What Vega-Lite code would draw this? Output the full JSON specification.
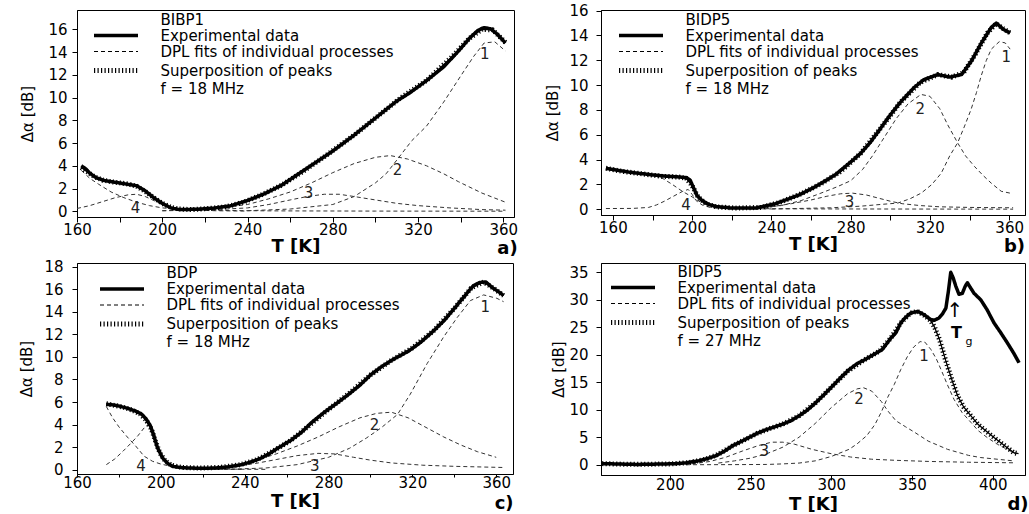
{
"$schema": "https://vega.github.io/schema/vega-lite/v6.json",
"background": "white",
"padding": {"left": 19, "top": 3, "right": 0, "bottom": 0},
"config": {
  "font": "DejaVu Sans",
  "view": {"stroke": "black", "strokeWidth": 1},
  "axis": {"grid": false, "domainColor": "black", "tickColor": "black", "labelColor": "black", "titleColor": "black", "labelFont": "DejaVu Sans", "titleFont": "DejaVu Sans", "labelFontSize": 15, "tickSize": 5, "labelOverlap": false, "labelFlush": false},
  "axisX": {"titleFontSize": 18, "titleFontWeight": "bold", "labelPadding": 0, "titlePadding": 0},
  "axisY": {"titleFontSize": 15, "titleFontWeight": "normal", "labelPadding": 5, "titlePadding": 12},
  "legend": {"direction": "vertical", "symbolType": "M-22,0H22", "symbolSize": 4, "symbolStrokeColor": "black", "symbolFillColor": "transparent", "symbolOffset": 14.5, "labelOffset": 37, "labelFont": "DejaVu Sans", "labelFontSize": 15, "labelColor": "black", "rowPadding": 0, "padding": 0, "labelLimit": 400},
  "title": {"fontSize": 18, "fontWeight": "bold", "font": "DejaVu Sans", "color": "black"},
  "text": {"font": "DejaVu Sans"}
},
"datasets": {
"a": [
{"s":"E","T":162,"v":4.0},{"s":"E","T":164,"v":3.75},{"s":"E","T":166,"v":3.35},{"s":"E","T":169,"v":2.95},{"s":"E","T":173,"v":2.7},{"s":"E","T":178,"v":2.55},{"s":"E","T":183,"v":2.4},{"s":"E","T":188,"v":2.25},{"s":"E","T":192,"v":1.8},{"s":"E","T":196,"v":1.2},{"s":"E","T":200,"v":0.7},{"s":"E","T":204,"v":0.3},{"s":"E","T":208,"v":0.15},{"s":"E","T":216,"v":0.18},{"s":"E","T":224,"v":0.28},{"s":"E","T":232,"v":0.48},{"s":"E","T":240,"v":0.95},{"s":"E","T":248,"v":1.55},{"s":"E","T":256,"v":2.3},{"s":"E","T":264,"v":3.3},{"s":"E","T":272,"v":4.3},{"s":"E","T":280,"v":5.3},{"s":"E","T":290,"v":6.7},{"s":"E","T":300,"v":8.2},{"s":"E","T":310,"v":9.7},{"s":"E","T":316,"v":10.4},{"s":"E","T":324,"v":11.5},{"s":"E","T":332,"v":12.7},{"s":"E","T":339,"v":14.1},{"s":"E","T":344,"v":15.2},{"s":"E","T":348,"v":15.9},{"s":"E","T":351,"v":16.15},{"s":"E","T":354,"v":16.05},{"s":"E","T":357,"v":15.6},{"s":"E","T":361,"v":14.8},
{"s":"S","T":162,"v":3.85},{"s":"S","T":165,"v":3.45},{"s":"S","T":168,"v":3.05},{"s":"S","T":172,"v":2.75},{"s":"S","T":176,"v":2.6},{"s":"S","T":180,"v":2.5},{"s":"S","T":184,"v":2.4},{"s":"S","T":188,"v":2.2},{"s":"S","T":192,"v":1.75},{"s":"S","T":196,"v":1.2},{"s":"S","T":200,"v":0.7},{"s":"S","T":204,"v":0.35},{"s":"S","T":208,"v":0.2},{"s":"S","T":214,"v":0.15},{"s":"S","T":222,"v":0.25},{"s":"S","T":230,"v":0.4},{"s":"S","T":238,"v":0.8},{"s":"S","T":246,"v":1.4},{"s":"S","T":256,"v":2.3},{"s":"S","T":266,"v":3.5},{"s":"S","T":276,"v":4.8},{"s":"S","T":290,"v":6.7},{"s":"S","T":300,"v":8.2},{"s":"S","T":312,"v":10.0},{"s":"S","T":324,"v":11.5},{"s":"S","T":336,"v":13.6},{"s":"S","T":344,"v":15.2},{"s":"S","T":350,"v":16.0},{"s":"S","T":355,"v":15.95},{"s":"S","T":361,"v":14.85},
{"s":"D","k":"1","T":240,"v":0.05},{"s":"D","k":"1","T":260,"v":0.2},{"s":"D","k":"1","T":280,"v":0.6},{"s":"D","k":"1","T":290,"v":1.3},{"s":"D","k":"1","T":300,"v":2.5},{"s":"D","k":"1","T":305,"v":3.3},{"s":"D","k":"1","T":310,"v":4.5},{"s":"D","k":"1","T":317,"v":6.2},{"s":"D","k":"1","T":324,"v":7.5},{"s":"D","k":"1","T":332,"v":9.6},{"s":"D","k":"1","T":340,"v":11.9},{"s":"D","k":"1","T":346,"v":13.6},{"s":"D","k":"1","T":351,"v":14.8},{"s":"D","k":"1","T":356,"v":14.9},{"s":"D","k":"1","T":361,"v":14.1},
{"s":"D","k":"2","T":200,"v":0.05},{"s":"D","k":"2","T":220,"v":0.15},{"s":"D","k":"2","T":240,"v":0.6},{"s":"D","k":"2","T":250,"v":1.1},{"s":"D","k":"2","T":260,"v":1.7},{"s":"D","k":"2","T":270,"v":2.5},{"s":"D","k":"2","T":280,"v":3.4},{"s":"D","k":"2","T":290,"v":4.2},{"s":"D","k":"2","T":300,"v":4.75},{"s":"D","k":"2","T":307,"v":4.9},{"s":"D","k":"2","T":315,"v":4.6},{"s":"D","k":"2","T":324,"v":4.0},{"s":"D","k":"2","T":332,"v":3.3},{"s":"D","k":"2","T":339,"v":2.6},{"s":"D","k":"2","T":350,"v":1.6},{"s":"D","k":"2","T":361,"v":0.8},
{"s":"D","k":"3","T":200,"v":0.05},{"s":"D","k":"3","T":220,"v":0.1},{"s":"D","k":"3","T":240,"v":0.3},{"s":"D","k":"3","T":250,"v":0.6},{"s":"D","k":"3","T":260,"v":1.0},{"s":"D","k":"3","T":268,"v":1.3},{"s":"D","k":"3","T":276,"v":1.5},{"s":"D","k":"3","T":283,"v":1.5},{"s":"D","k":"3","T":290,"v":1.3},{"s":"D","k":"3","T":300,"v":1.0},{"s":"D","k":"3","T":310,"v":0.7},{"s":"D","k":"3","T":320,"v":0.5},{"s":"D","k":"3","T":335,"v":0.3},{"s":"D","k":"3","T":350,"v":0.15},{"s":"D","k":"3","T":361,"v":0.1},
{"s":"D","k":"4","T":162,"v":3.6},{"s":"D","k":"4","T":166,"v":2.9},{"s":"D","k":"4","T":170,"v":2.4},{"s":"D","k":"4","T":176,"v":1.7},{"s":"D","k":"4","T":182,"v":1.2},{"s":"D","k":"4","T":188,"v":0.8},{"s":"D","k":"4","T":194,"v":0.5},{"s":"D","k":"4","T":200,"v":0.3},{"s":"D","k":"4","T":210,"v":0.15},{"s":"D","k":"4","T":225,"v":0.08},{"s":"D","k":"4","T":250,"v":0.04},{"s":"D","k":"4","T":300,"v":0.02},{"s":"D","k":"4","T":361,"v":0.01},
{"s":"D","k":"5","T":160,"v":0.25},{"s":"D","k":"5","T":166,"v":0.5},{"s":"D","k":"5","T":172,"v":0.85},{"s":"D","k":"5","T":178,"v":1.2},{"s":"D","k":"5","T":184,"v":1.45},{"s":"D","k":"5","T":188,"v":1.5},{"s":"D","k":"5","T":192,"v":1.3},{"s":"D","k":"5","T":196,"v":0.95},{"s":"D","k":"5","T":200,"v":0.6},{"s":"D","k":"5","T":205,"v":0.3},{"s":"D","k":"5","T":212,"v":0.12},{"s":"D","k":"5","T":225,"v":0.05},{"s":"D","k":"5","T":240,"v":0.02}
],
"b": [
{"s":"E","T":156.5,"v":3.3},{"s":"E","T":162,"v":3.15},{"s":"E","T":168,"v":3.0},{"s":"E","T":174,"v":2.88},{"s":"E","T":180,"v":2.77},{"s":"E","T":186,"v":2.68},{"s":"E","T":192,"v":2.62},{"s":"E","T":197,"v":2.55},{"s":"E","T":199,"v":2.35},{"s":"E","T":200.5,"v":1.8},{"s":"E","T":202.5,"v":1.1},{"s":"E","T":205,"v":0.7},{"s":"E","T":208,"v":0.42},{"s":"E","T":212,"v":0.22},{"s":"E","T":220,"v":0.1},{"s":"E","T":232,"v":0.1},{"s":"E","T":242,"v":0.45},{"s":"E","T":248,"v":0.8},{"s":"E","T":254,"v":1.16},{"s":"E","T":262,"v":1.8},{"s":"E","T":272,"v":2.75},{"s":"E","T":280,"v":3.8},{"s":"E","T":285,"v":4.5},{"s":"E","T":290,"v":5.4},{"s":"E","T":295,"v":6.5},{"s":"E","T":300,"v":7.6},{"s":"E","T":305,"v":8.6},{"s":"E","T":312,"v":9.8},{"s":"E","T":317,"v":10.45},{"s":"E","T":324,"v":10.85},{"s":"E","T":330,"v":10.65},{"s":"E","T":336,"v":10.85},{"s":"E","T":341,"v":11.95},{"s":"E","T":346,"v":13.4},{"s":"E","T":351,"v":14.65},{"s":"E","T":353.5,"v":15.0},{"s":"E","T":357,"v":14.5},{"s":"E","T":360.5,"v":14.2},
{"s":"S","T":156.5,"v":3.3},{"s":"S","T":165,"v":3.05},{"s":"S","T":175,"v":2.85},{"s":"S","T":185,"v":2.65},{"s":"S","T":193,"v":2.6},{"s":"S","T":197,"v":2.5},{"s":"S","T":200,"v":1.9},{"s":"S","T":203,"v":1.0},{"s":"S","T":207,"v":0.45},{"s":"S","T":212,"v":0.2},{"s":"S","T":222,"v":0.1},{"s":"S","T":235,"v":0.15},{"s":"S","T":245,"v":0.6},{"s":"S","T":255,"v":1.25},{"s":"S","T":265,"v":2.05},{"s":"S","T":275,"v":3.05},{"s":"S","T":285,"v":4.5},{"s":"S","T":295,"v":6.5},{"s":"S","T":305,"v":8.6},{"s":"S","T":315,"v":10.2},{"s":"S","T":324,"v":10.85},{"s":"S","T":331,"v":10.65},{"s":"S","T":337,"v":11.0},{"s":"S","T":343,"v":12.5},{"s":"S","T":349,"v":14.2},{"s":"S","T":353.5,"v":14.95},{"s":"S","T":357,"v":14.55},{"s":"S","T":360.5,"v":14.2},
{"s":"D","k":"1","T":240,"v":0.02},{"s":"D","k":"1","T":270,"v":0.12},{"s":"D","k":"1","T":285,"v":0.25},{"s":"D","k":"1","T":296,"v":0.4},{"s":"D","k":"1","T":303.8,"v":0.5},{"s":"D","k":"1","T":310,"v":0.85},{"s":"D","k":"1","T":315.6,"v":1.3},{"s":"D","k":"1","T":321,"v":2.0},{"s":"D","k":"1","T":325.7,"v":2.9},{"s":"D","k":"1","T":330,"v":4.3},{"s":"D","k":"1","T":334,"v":5.35},{"s":"D","k":"1","T":337.5,"v":6.7},{"s":"D","k":"1","T":340.8,"v":8.05},{"s":"D","k":"1","T":343.5,"v":9.4},{"s":"D","k":"1","T":345.9,"v":10.75},{"s":"D","k":"1","T":348.5,"v":12.0},{"s":"D","k":"1","T":351,"v":12.9},{"s":"D","k":"1","T":355,"v":13.5},{"s":"D","k":"1","T":358,"v":13.4},{"s":"D","k":"1","T":360.5,"v":12.9},
{"s":"D","k":"2","T":230,"v":0.05},{"s":"D","k":"2","T":245,"v":0.3},{"s":"D","k":"2","T":255,"v":0.7},{"s":"D","k":"2","T":265,"v":1.3},{"s":"D","k":"2","T":273,"v":1.8},{"s":"D","k":"2","T":280,"v":2.3},{"s":"D","k":"2","T":286,"v":3.2},{"s":"D","k":"2","T":291,"v":4.3},{"s":"D","k":"2","T":297,"v":5.8},{"s":"D","k":"2","T":303,"v":7.3},{"s":"D","k":"2","T":309,"v":8.5},{"s":"D","k":"2","T":315.5,"v":9.25},{"s":"D","k":"2","T":320,"v":9.1},{"s":"D","k":"2","T":325,"v":8.1},{"s":"D","k":"2","T":329,"v":6.8},{"s":"D","k":"2","T":334,"v":5.35},{"s":"D","k":"2","T":338,"v":4.3},{"s":"D","k":"2","T":342.5,"v":3.45},{"s":"D","k":"2","T":347,"v":2.7},{"s":"D","k":"2","T":351,"v":2.1},{"s":"D","k":"2","T":356,"v":1.45},{"s":"D","k":"2","T":360.5,"v":1.3},
{"s":"D","k":"3","T":225,"v":0.05},{"s":"D","k":"3","T":240,"v":0.2},{"s":"D","k":"3","T":250,"v":0.45},{"s":"D","k":"3","T":260,"v":0.75},{"s":"D","k":"3","T":268,"v":1.05},{"s":"D","k":"3","T":275,"v":1.25},{"s":"D","k":"3","T":281,"v":1.3},{"s":"D","k":"3","T":288,"v":1.15},{"s":"D","k":"3","T":294,"v":0.9},{"s":"D","k":"3","T":300,"v":0.65},{"s":"D","k":"3","T":306,"v":0.45},{"s":"D","k":"3","T":315,"v":0.3},{"s":"D","k":"3","T":325,"v":0.2},{"s":"D","k":"3","T":340,"v":0.15},{"s":"D","k":"3","T":362,"v":0.12},
{"s":"D","k":"4","T":156.5,"v":3.3},{"s":"D","k":"4","T":163,"v":3.1},{"s":"D","k":"4","T":170,"v":2.95},{"s":"D","k":"4","T":177,"v":2.8},{"s":"D","k":"4","T":182,"v":2.65},{"s":"D","k":"4","T":185,"v":2.5},{"s":"D","k":"4","T":190,"v":2.0},{"s":"D","k":"4","T":195,"v":1.45},{"s":"D","k":"4","T":200,"v":1.0},{"s":"D","k":"4","T":204,"v":0.6},{"s":"D","k":"4","T":208,"v":0.3},{"s":"D","k":"4","T":215,"v":0.12},{"s":"D","k":"4","T":225,"v":0.06},{"s":"D","k":"4","T":260,"v":0.03},{"s":"D","k":"4","T":362,"v":0.01},
{"s":"D","k":"5","T":156.5,"v":0.06},{"s":"D","k":"5","T":170,"v":0.07},{"s":"D","k":"5","T":178,"v":0.15},{"s":"D","k":"5","T":182,"v":0.35},{"s":"D","k":"5","T":186,"v":0.65},{"s":"D","k":"5","T":190,"v":1.0},{"s":"D","k":"5","T":195,"v":1.43},{"s":"D","k":"5","T":198,"v":1.6},{"s":"D","k":"5","T":200,"v":1.2},{"s":"D","k":"5","T":202,"v":0.7},{"s":"D","k":"5","T":205,"v":0.35},{"s":"D","k":"5","T":209,"v":0.15},{"s":"D","k":"5","T":216,"v":0.06},{"s":"D","k":"5","T":240,"v":0.03}
],
"c": [
{"s":"E","T":174,"v":5.8},{"s":"E","T":177,"v":5.75},{"s":"E","T":180,"v":5.65},{"s":"E","T":184,"v":5.45},{"s":"E","T":188,"v":5.2},{"s":"E","T":191,"v":4.9},{"s":"E","T":193,"v":4.5},{"s":"E","T":195,"v":3.9},{"s":"E","T":196.5,"v":3.1},{"s":"E","T":198.4,"v":1.95},{"s":"E","T":200.8,"v":1.05},{"s":"E","T":203,"v":0.6},{"s":"E","T":205.5,"v":0.3},{"s":"E","T":209,"v":0.2},{"s":"E","T":213,"v":0.15},{"s":"E","T":220,"v":0.13},{"s":"E","T":226,"v":0.15},{"s":"E","T":232,"v":0.25},{"s":"E","T":238.7,"v":0.45},{"s":"E","T":244,"v":0.75},{"s":"E","T":248,"v":1.04},{"s":"E","T":252,"v":1.45},{"s":"E","T":256,"v":1.94},{"s":"E","T":262,"v":2.6},{"s":"E","T":267,"v":3.3},{"s":"E","T":272,"v":4.2},{"s":"E","T":278,"v":5.1},{"s":"E","T":284,"v":5.9},{"s":"E","T":289,"v":6.6},{"s":"E","T":295,"v":7.5},{"s":"E","T":300,"v":8.4},{"s":"E","T":305,"v":9.1},{"s":"E","T":311,"v":9.8},{"s":"E","T":318,"v":10.5},{"s":"E","T":324,"v":11.3},{"s":"E","T":330,"v":12.3},{"s":"E","T":335,"v":13.2},{"s":"E","T":340,"v":14.3},{"s":"E","T":344,"v":15.2},{"s":"E","T":349,"v":16.3},{"s":"E","T":352,"v":16.6},{"s":"E","T":355,"v":16.65},{"s":"E","T":358.5,"v":16.1},{"s":"E","T":361,"v":15.8},{"s":"E","T":363.5,"v":15.45},
{"s":"S","T":174,"v":5.85},{"s":"S","T":178,"v":5.7},{"s":"S","T":182,"v":5.55},{"s":"S","T":186,"v":5.3},{"s":"S","T":190,"v":4.95},{"s":"S","T":193,"v":4.4},{"s":"S","T":195.5,"v":3.6},{"s":"S","T":197.5,"v":2.5},{"s":"S","T":199.5,"v":1.5},{"s":"S","T":202,"v":0.8},{"s":"S","T":205,"v":0.4},{"s":"S","T":210,"v":0.2},{"s":"S","T":218,"v":0.15},{"s":"S","T":228,"v":0.2},{"s":"S","T":238,"v":0.45},{"s":"S","T":246,"v":0.9},{"s":"S","T":254,"v":1.7},{"s":"S","T":262,"v":2.6},{"s":"S","T":270,"v":3.8},{"s":"S","T":280,"v":5.35},{"s":"S","T":290,"v":6.8},{"s":"S","T":300,"v":8.4},{"s":"S","T":310,"v":9.7},{"s":"S","T":320,"v":10.8},{"s":"S","T":330,"v":12.3},{"s":"S","T":340,"v":14.3},{"s":"S","T":348,"v":16.1},{"s":"S","T":354,"v":16.65},{"s":"S","T":359,"v":16.05},{"s":"S","T":363.5,"v":15.45},
{"s":"D","k":"1","T":230,"v":0.03},{"s":"D","k":"1","T":250,"v":0.15},{"s":"D","k":"1","T":265,"v":0.45},{"s":"D","k":"1","T":280,"v":1.1},{"s":"D","k":"1","T":290,"v":1.9},{"s":"D","k":"1","T":298,"v":2.8},{"s":"D","k":"1","T":305,"v":3.7},{"s":"D","k":"1","T":312.9,"v":4.9},{"s":"D","k":"1","T":319,"v":6.7},{"s":"D","k":"1","T":327,"v":9.4},{"s":"D","k":"1","T":335,"v":11.8},{"s":"D","k":"1","T":341.4,"v":13.5},{"s":"D","k":"1","T":347.7,"v":15.0},{"s":"D","k":"1","T":354,"v":15.5},{"s":"D","k":"1","T":360.3,"v":15.2},{"s":"D","k":"1","T":363.5,"v":14.9},
{"s":"D","k":"2","T":225,"v":0.1},{"s":"D","k":"2","T":235,"v":0.35},{"s":"D","k":"2","T":245,"v":0.8},{"s":"D","k":"2","T":255,"v":1.4},{"s":"D","k":"2","T":265,"v":2.1},{"s":"D","k":"2","T":275,"v":2.9},{"s":"D","k":"2","T":285,"v":3.8},{"s":"D","k":"2","T":295,"v":4.6},{"s":"D","k":"2","T":303,"v":5.0},{"s":"D","k":"2","T":310,"v":5.1},{"s":"D","k":"2","T":318,"v":4.6},{"s":"D","k":"2","T":327,"v":3.7},{"s":"D","k":"2","T":335,"v":2.9},{"s":"D","k":"2","T":343,"v":2.2},{"s":"D","k":"2","T":351,"v":1.6},{"s":"D","k":"2","T":360,"v":1.1},
{"s":"D","k":"3","T":215,"v":0.05},{"s":"D","k":"3","T":230,"v":0.2},{"s":"D","k":"3","T":245,"v":0.55},{"s":"D","k":"3","T":255,"v":0.9},{"s":"D","k":"3","T":265,"v":1.25},{"s":"D","k":"3","T":275,"v":1.45},{"s":"D","k":"3","T":283,"v":1.4},{"s":"D","k":"3","T":292,"v":1.1},{"s":"D","k":"3","T":300,"v":0.85},{"s":"D","k":"3","T":310,"v":0.6},{"s":"D","k":"3","T":325,"v":0.4},{"s":"D","k":"3","T":340,"v":0.3},{"s":"D","k":"3","T":363,"v":0.2},
{"s":"D","k":"4","T":174,"v":5.6},{"s":"D","k":"4","T":177,"v":4.6},{"s":"D","k":"4","T":180,"v":3.8},{"s":"D","k":"4","T":184,"v":2.9},{"s":"D","k":"4","T":188,"v":2.1},{"s":"D","k":"4","T":192,"v":1.2},{"s":"D","k":"4","T":196,"v":0.75},{"s":"D","k":"4","T":200,"v":0.5},{"s":"D","k":"4","T":205,"v":0.3},{"s":"D","k":"4","T":212,"v":0.15},{"s":"D","k":"4","T":225,"v":0.06},{"s":"D","k":"4","T":250,"v":0.03},
{"s":"D","k":"5","T":174,"v":0.45},{"s":"D","k":"5","T":178,"v":0.95},{"s":"D","k":"5","T":182,"v":1.65},{"s":"D","k":"5","T":186,"v":2.4},{"s":"D","k":"5","T":189,"v":3.0},{"s":"D","k":"5","T":192,"v":3.7},{"s":"D","k":"5","T":194.5,"v":4.1},{"s":"D","k":"5","T":196.5,"v":3.5},{"s":"D","k":"5","T":198.4,"v":2.2},{"s":"D","k":"5","T":200.8,"v":1.1},{"s":"D","k":"5","T":203,"v":0.6},{"s":"D","k":"5","T":206,"v":0.3},{"s":"D","k":"5","T":211,"v":0.12},{"s":"D","k":"5","T":220,"v":0.05},{"s":"D","k":"5","T":240,"v":0.02}
],
"d": [
{"s":"E","T":158,"v":0.2},{"s":"E","T":165,"v":0.15},{"s":"E","T":172,"v":0.1},{"s":"E","T":180,"v":0.05},{"s":"E","T":190,"v":0.1},{"s":"E","T":198,"v":0.15},{"s":"E","T":204,"v":0.2},{"s":"E","T":210,"v":0.35},{"s":"E","T":218,"v":0.73},{"s":"E","T":223,"v":1.1},{"s":"E","T":228.5,"v":1.63},{"s":"E","T":234,"v":2.5},{"s":"E","T":238.8,"v":3.45},{"s":"E","T":244,"v":4.2},{"s":"E","T":249,"v":4.95},{"s":"E","T":254,"v":5.7},{"s":"E","T":259.4,"v":6.35},{"s":"E","T":265,"v":6.9},{"s":"E","T":270,"v":7.4},{"s":"E","T":275,"v":8.0},{"s":"E","T":280,"v":8.9},{"s":"E","T":285,"v":9.9},{"s":"E","T":290,"v":11.2},{"s":"E","T":295,"v":12.6},{"s":"E","T":300.7,"v":14.3},{"s":"E","T":306,"v":15.9},{"s":"E","T":311,"v":17.3},{"s":"E","T":316,"v":18.4},{"s":"E","T":321.4,"v":19.2},{"s":"E","T":326,"v":20.0},{"s":"E","T":331.7,"v":21.0},{"s":"E","T":336.8,"v":23.0},{"s":"E","T":340,"v":24.0},{"s":"E","T":343,"v":25.8},{"s":"E","T":346,"v":26.8},{"s":"E","T":349.2,"v":27.6},{"s":"E","T":353.4,"v":27.9},{"s":"E","T":357.5,"v":27.3},{"s":"E","T":361.6,"v":26.4},{"s":"E","T":364,"v":26.3},{"s":"E","T":366.7,"v":26.7},{"s":"E","T":369,"v":27.5},{"s":"E","T":371,"v":28.5},{"s":"E","T":372.5,"v":31.5},{"s":"E","T":374,"v":35.0},{"s":"E","T":375.5,"v":34.0},{"s":"E","T":377.1,"v":32.5},{"s":"E","T":379.1,"v":31.0},{"s":"E","T":381.2,"v":31.2},{"s":"E","T":383,"v":32.5},{"s":"E","T":384.3,"v":33.1},{"s":"E","T":386,"v":32.3},{"s":"E","T":388.4,"v":31.2},{"s":"E","T":392.6,"v":30.0},{"s":"E","T":396.5,"v":28.2},{"s":"E","T":400.8,"v":25.8},{"s":"E","T":405,"v":24.0},{"s":"E","T":409,"v":22.2},{"s":"E","T":413,"v":20.3},{"s":"E","T":416.3,"v":18.55},
{"s":"S","T":158,"v":0.2},{"s":"S","T":170,"v":0.1},{"s":"S","T":185,"v":0.08},{"s":"S","T":200,"v":0.15},{"s":"S","T":212,"v":0.4},{"s":"S","T":222,"v":1.0},{"s":"S","T":230,"v":1.9},{"s":"S","T":238,"v":3.3},{"s":"S","T":246,"v":4.5},{"s":"S","T":254,"v":5.7},{"s":"S","T":262,"v":6.6},{"s":"S","T":270,"v":7.4},{"s":"S","T":280,"v":8.9},{"s":"S","T":290,"v":11.2},{"s":"S","T":300,"v":14.1},{"s":"S","T":310,"v":17.0},{"s":"S","T":320,"v":19.0},{"s":"S","T":330,"v":20.7},{"s":"S","T":337,"v":23.1},{"s":"S","T":343,"v":25.8},{"s":"S","T":349,"v":27.6},{"s":"S","T":353.4,"v":27.9},{"s":"S","T":358,"v":27.1},{"s":"S","T":361.6,"v":26.2},{"s":"S","T":364,"v":25.0},{"s":"S","T":367,"v":22.8},{"s":"S","T":370,"v":19.8},{"s":"S","T":372,"v":17.9},{"s":"S","T":375,"v":15.2},{"s":"S","T":378.3,"v":12.5},{"s":"S","T":382,"v":10.5},{"s":"S","T":386.5,"v":8.9},{"s":"S","T":391,"v":7.3},{"s":"S","T":396.8,"v":5.9},{"s":"S","T":401,"v":4.9},{"s":"S","T":405,"v":4.0},{"s":"S","T":409,"v":3.1},{"s":"S","T":413,"v":2.2},{"s":"S","T":416,"v":2.0},
{"s":"D","k":"1","T":210,"v":0.0},{"s":"D","k":"1","T":240,"v":0.02},{"s":"D","k":"1","T":260,"v":0.05},{"s":"D","k":"1","T":270,"v":0.15},{"s":"D","k":"1","T":280,"v":0.3},{"s":"D","k":"1","T":290,"v":0.7},{"s":"D","k":"1","T":300,"v":1.5},{"s":"D","k":"1","T":311,"v":2.8},{"s":"D","k":"1","T":316,"v":3.8},{"s":"D","k":"1","T":322,"v":5.3},{"s":"D","k":"1","T":327,"v":7.3},{"s":"D","k":"1","T":331,"v":9.6},{"s":"D","k":"1","T":335,"v":12.3},{"s":"D","k":"1","T":339,"v":14.6},{"s":"D","k":"1","T":343,"v":17.3},{"s":"D","k":"1","T":347,"v":19.6},{"s":"D","k":"1","T":351,"v":21.4},{"s":"D","k":"1","T":355,"v":22.4},{"s":"D","k":"1","T":358,"v":22.3},{"s":"D","k":"1","T":361.6,"v":21.0},{"s":"D","k":"1","T":365,"v":19.3},{"s":"D","k":"1","T":368,"v":17.3},{"s":"D","k":"1","T":372,"v":14.5},{"s":"D","k":"1","T":376,"v":11.9},{"s":"D","k":"1","T":381,"v":9.5},{"s":"D","k":"1","T":386.5,"v":7.7},{"s":"D","k":"1","T":391,"v":6.2},{"s":"D","k":"1","T":396.8,"v":4.9},{"s":"D","k":"1","T":403,"v":3.7},{"s":"D","k":"1","T":409,"v":2.8},{"s":"D","k":"1","T":414,"v":2.0},
{"s":"D","k":"2","T":230,"v":0.3},{"s":"D","k":"2","T":240,"v":0.7},{"s":"D","k":"2","T":250,"v":1.2},{"s":"D","k":"2","T":260,"v":2.0},{"s":"D","k":"2","T":270,"v":3.2},{"s":"D","k":"2","T":280,"v":5.0},{"s":"D","k":"2","T":290,"v":7.5},{"s":"D","k":"2","T":300,"v":10.4},{"s":"D","k":"2","T":310,"v":12.9},{"s":"D","k":"2","T":316,"v":13.8},{"s":"D","k":"2","T":320,"v":14.0},{"s":"D","k":"2","T":325,"v":13.4},{"s":"D","k":"2","T":331,"v":11.5},{"s":"D","k":"2","T":335,"v":9.8},{"s":"D","k":"2","T":340,"v":8.0},{"s":"D","k":"2","T":346,"v":6.9},{"s":"D","k":"2","T":351.6,"v":5.9},{"s":"D","k":"2","T":360,"v":4.3},{"s":"D","k":"2","T":372,"v":2.8},{"s":"D","k":"2","T":385,"v":1.7},{"s":"D","k":"2","T":392.6,"v":1.3},{"s":"D","k":"2","T":413,"v":0.7},
{"s":"D","k":"3","T":205,"v":0.05},{"s":"D","k":"3","T":215,"v":0.2},{"s":"D","k":"3","T":225,"v":0.6},{"s":"D","k":"3","T":235,"v":1.4},{"s":"D","k":"3","T":245,"v":2.5},{"s":"D","k":"3","T":255,"v":3.5},{"s":"D","k":"3","T":263,"v":4.1},{"s":"D","k":"3","T":270,"v":4.1},{"s":"D","k":"3","T":277,"v":3.75},{"s":"D","k":"3","T":288,"v":2.8},{"s":"D","k":"3","T":300,"v":2.0},{"s":"D","k":"3","T":312,"v":1.4},{"s":"D","k":"3","T":325,"v":1.0},{"s":"D","k":"3","T":340,"v":0.8},{"s":"D","k":"3","T":360,"v":0.6},{"s":"D","k":"3","T":385,"v":0.45},{"s":"D","k":"3","T":413,"v":0.35}
],
"lab": [
{"p":"a","f":"n","t":"1","T":351.3,"v":13.8},{"p":"a","f":"n","t":"2","T":310.4,"v":3.6},{"p":"a","f":"n","t":"3","T":268.6,"v":1.6},{"p":"a","f":"n","t":"4","T":187.5,"v":0.28},
{"p":"b","f":"n","t":"1","T":358.5,"v":12.3},{"p":"b","f":"n","t":"2","T":315.2,"v":8.05},{"p":"b","f":"n","t":"3","T":279.4,"v":0.6},{"p":"b","f":"n","t":"4","T":196.9,"v":0.35},
{"p":"c","f":"n","t":"1","T":354.8,"v":14.4},{"p":"c","f":"n","t":"2","T":301.9,"v":4.0},{"p":"c","f":"n","t":"3","T":273.4,"v":0.3},{"p":"c","f":"n","t":"4","T":190.5,"v":0.36},
{"p":"d","f":"n","t":"1","T":357.5,"v":19.8},{"p":"d","f":"n","t":"2","T":317.2,"v":11.9},{"p":"d","f":"n","t":"3","T":258.4,"v":2.5},
{"p":"d","f":"a","t":"↑","T":376.5,"v":27.9},{"p":"d","f":"T","t":"T","T":377.6,"v":23.9},{"p":"d","f":"g","t":"g","T":385.3,"v":22.4}
]
},
"columns": 2,
"bounds": "flush",
"align": "each",
"spacing": {"row": 46, "column": 87},
"resolve": {"scale": {"x": "independent", "y": "independent", "strokeDash": "independent"}, "legend": {"strokeDash": "independent"}},
"concat": [
{
 "width": 437, "height": 207,
 "data": {"name": "a"},
 "title": {"text": "a)", "orient": "bottom", "anchor": "end", "offset": -15},
 "encoding": {
  "x": {"field": "T", "type": "quantitative", "scale": {"domain": [160, 365], "nice": false, "zero": false}, "axis": {"title": "T [K]", "values": [160,180,200,220,240,260,280,300,320,340,360], "labelExpr": "datum.value % 40 == 0 ? datum.label : ''"}},
  "y": {"field": "v", "type": "quantitative", "scale": {"domain": [-0.5, 17.7], "nice": false, "zero": false}, "axis": {"title": "Δα [dB]", "values": [0,2,4,6,8,10,12,14,16]}}
 },
 "layer": [
  {"transform": [{"filter": "datum.s=='D'"}], "mark": {"type": "line", "color": "#333", "strokeWidth": 1, "clip": true}, "encoding": {"detail": {"field": "k"}, "strokeDash": {"field": "s", "type": "nominal", "scale": {"domain": ["N","E","D","S","F"], "range": [[1,0],[1,0],[4,3],[1.2,2.3],[1,0]]}, "legend": {"title": null, "orient": "none", "legendX": 17, "legendY": 2, "labelExpr": "datum.value=='N'?'BIBP1':datum.value=='E'?'Experimental data':datum.value=='D'?'DPL fits of individual processes':datum.value=='S'?'Superposition of peaks':'f = 18 MHz'", "encode": {"symbols": {"update": {"strokeWidth": {"signal": "datum.value=='E'?3.5:datum.value=='D'?1:datum.value=='S'?5:0"}}}}}}}},
  {"transform": [{"filter": "datum.s=='S'"}], "mark": {"type": "line", "color": "black", "strokeWidth": 1.3}, "encoding": {}},
  {"transform": [{"filter": "datum.s=='S'"}], "mark": {"type": "line", "color": "black", "strokeWidth": 5}, "encoding": {"strokeDash": {"field": "s", "type": "nominal"}}},
  {"transform": [{"filter": "datum.s=='E'"}], "mark": {"type": "line", "color": "black", "strokeWidth": 3.5, "strokeJoin": "round"}, "encoding": {"strokeDash": {"field": "s", "type": "nominal"}}},
  {"data": {"name": "lab"}, "transform": [{"filter": "datum.p=='a'"}], "mark": {"type": "text", "fontSize": 15, "color": "#222"}, "encoding": {"text": {"field": "t"}}}
 ]
},
{
 "width": 424, "height": 205,
 "data": {"name": "b"},
 "title": {"text": "b)", "orient": "bottom", "anchor": "end", "offset": -15},
 "encoding": {
  "x": {"field": "T", "type": "quantitative", "scale": {"domain": [154, 368], "nice": false, "zero": false}, "axis": {"title": "T [K]", "values": [160,180,200,220,240,260,280,300,320,340,360], "labelExpr": "datum.value % 40 == 0 ? datum.label : ''"}},
  "y": {"field": "v", "type": "quantitative", "scale": {"domain": [-0.46, 16.05], "nice": false, "zero": false}, "axis": {"title": "Δα [dB]", "values": [0,2,4,6,8,10,12,14,16], "labelPadding": 8, "titlePadding": 8}}
 },
 "layer": [
  {"transform": [{"filter": "datum.s=='D'"}], "mark": {"type": "line", "color": "#333", "strokeWidth": 1, "clip": true}, "encoding": {"detail": {"field": "k"}, "strokeDash": {"field": "s", "type": "nominal", "scale": {"domain": ["N","E","D","S","F"], "range": [[1,0],[1,0],[4,3],[1.2,2.3],[1,0]]}, "legend": {"title": null, "orient": "none", "legendX": 18, "legendY": 2, "labelExpr": "datum.value=='N'?'BIDP5':datum.value=='E'?'Experimental data':datum.value=='D'?'DPL fits of individual processes':datum.value=='S'?'Superposition of peaks':'f = 18 MHz'", "encode": {"symbols": {"update": {"strokeWidth": {"signal": "datum.value=='E'?3.5:datum.value=='D'?1:datum.value=='S'?5:0"}}}}}}}},
  {"transform": [{"filter": "datum.s=='S'"}], "mark": {"type": "line", "color": "black", "strokeWidth": 1.3}, "encoding": {}},
  {"transform": [{"filter": "datum.s=='S'"}], "mark": {"type": "line", "color": "black", "strokeWidth": 5}, "encoding": {"strokeDash": {"field": "s", "type": "nominal"}}},
  {"transform": [{"filter": "datum.s=='E'"}], "mark": {"type": "line", "color": "black", "strokeWidth": 3.5, "strokeJoin": "round"}, "encoding": {"strokeDash": {"field": "s", "type": "nominal"}}},
  {"data": {"name": "lab"}, "transform": [{"filter": "datum.p=='b'"}], "mark": {"type": "text", "fontSize": 15, "color": "#222"}, "encoding": {"text": {"field": "t"}}}
 ]
},
{
 "width": 436, "height": 211,
 "data": {"name": "c"},
 "title": {"text": "c)", "orient": "bottom", "anchor": "end", "offset": -15},
 "encoding": {
  "x": {"field": "T", "type": "quantitative", "scale": {"domain": [160, 368], "nice": false, "zero": false}, "axis": {"title": "T [K]", "values": [160,180,200,220,240,260,280,300,320,340,360], "labelExpr": "datum.value % 40 == 0 ? datum.label : ''", "tickSize": 3, "labelPadding": -2, "titlePadding": 2}},
  "y": {"field": "v", "type": "quantitative", "scale": {"domain": [-0.38, 18.33], "nice": false, "zero": false}, "axis": {"title": "Δα [dB]", "values": [0,2,4,6,8,10,12,14,16,18], "labelPadding": 9, "titlePadding": 9}}
 },
 "layer": [
  {"transform": [{"filter": "datum.s=='D'"}], "mark": {"type": "line", "color": "#333", "strokeWidth": 1, "clip": true}, "encoding": {"detail": {"field": "k"}, "strokeDash": {"field": "s", "type": "nominal", "scale": {"domain": ["N","E","D","S","F"], "range": [[1,0],[1,0],[4,3],[1.2,2.3],[1,0]]}, "legend": {"title": null, "orient": "none", "legendX": 23, "legendY": 2.5, "labelExpr": "datum.value=='N'?'BDP':datum.value=='E'?'Experimental data':datum.value=='D'?'DPL fits of individual processes':datum.value=='S'?'Superposition of peaks':'f = 18 MHz'", "encode": {"symbols": {"update": {"strokeWidth": {"signal": "datum.value=='E'?3.5:datum.value=='D'?1:datum.value=='S'?5:0"}}}}}}}},
  {"transform": [{"filter": "datum.s=='S'"}], "mark": {"type": "line", "color": "black", "strokeWidth": 1.3}, "encoding": {}},
  {"transform": [{"filter": "datum.s=='S'"}], "mark": {"type": "line", "color": "black", "strokeWidth": 5}, "encoding": {"strokeDash": {"field": "s", "type": "nominal"}}},
  {"transform": [{"filter": "datum.s=='E'"}], "mark": {"type": "line", "color": "black", "strokeWidth": 3.5, "strokeJoin": "round"}, "encoding": {"strokeDash": {"field": "s", "type": "nominal"}}},
  {"data": {"name": "lab"}, "transform": [{"filter": "datum.p=='c'"}], "mark": {"type": "text", "fontSize": 15, "color": "#222"}, "encoding": {"text": {"field": "t"}}}
 ]
},
{
 "width": 424, "height": 212,
 "data": {"name": "d"},
 "title": {"text": "d)", "orient": "bottom", "anchor": "end", "offset": -17},
 "encoding": {
  "x": {"field": "T", "type": "quantitative", "scale": {"domain": [157.3, 420], "nice": false, "zero": false}, "axis": {"title": "T [K]", "values": [200,250,300,350,400], "labelPadding": -3, "titlePadding": 3}},
  "y": {"field": "v", "type": "quantitative", "scale": {"domain": [-1.87, 36.7], "nice": false, "zero": false}, "axis": {"title": "Δα [dB]", "values": [0,5,10,15,20,25,30,35], "labelPadding": 8, "titlePadding": 2}}
 },
 "layer": [
  {"transform": [{"filter": "datum.s=='D'"}], "mark": {"type": "line", "color": "#333", "strokeWidth": 1, "clip": true}, "encoding": {"detail": {"field": "k"}, "strokeDash": {"field": "s", "type": "nominal", "scale": {"domain": ["N","E","D","S","F"], "range": [[1,0],[1,0],[4,3],[1.2,2.3],[1,0]]}, "legend": {"title": null, "orient": "none", "legendX": 10, "legendY": 1, "labelExpr": "datum.value=='N'?'BIDP5':datum.value=='E'?'Experimental data':datum.value=='D'?'DPL fits of individual processes':datum.value=='S'?'Superposition of peaks':'f = 27 MHz'", "encode": {"symbols": {"update": {"strokeWidth": {"signal": "datum.value=='E'?3.5:datum.value=='D'?1:datum.value=='S'?5:0"}}}}}}}},
  {"transform": [{"filter": "datum.s=='S'"}], "mark": {"type": "line", "color": "black", "strokeWidth": 1.3}, "encoding": {}},
  {"transform": [{"filter": "datum.s=='S'"}], "mark": {"type": "line", "color": "black", "strokeWidth": 5}, "encoding": {"strokeDash": {"field": "s", "type": "nominal"}}},
  {"transform": [{"filter": "datum.s=='E'"}], "mark": {"type": "line", "color": "black", "strokeWidth": 3.5, "strokeJoin": "round"}, "encoding": {"strokeDash": {"field": "s", "type": "nominal"}}},
  {"data": {"name": "lab"}, "transform": [{"filter": "datum.p=='d' && datum.f=='n'"}], "mark": {"type": "text", "fontSize": 15, "color": "#222"}, "encoding": {"text": {"field": "t"}}},
  {"data": {"name": "lab"}, "transform": [{"filter": "datum.p=='d' && datum.f=='a'"}], "mark": {"type": "text", "fontSize": 20, "color": "black"}, "encoding": {"text": {"field": "t"}}},
  {"data": {"name": "lab"}, "transform": [{"filter": "datum.p=='d' && datum.f=='T'"}], "mark": {"type": "text", "fontSize": 16, "fontWeight": "bold", "color": "black"}, "encoding": {"text": {"field": "t"}}},
  {"data": {"name": "lab"}, "transform": [{"filter": "datum.p=='d' && datum.f=='g'"}], "mark": {"type": "text", "fontSize": 11, "color": "black"}, "encoding": {"text": {"field": "t"}}}
 ]
}
]
}
